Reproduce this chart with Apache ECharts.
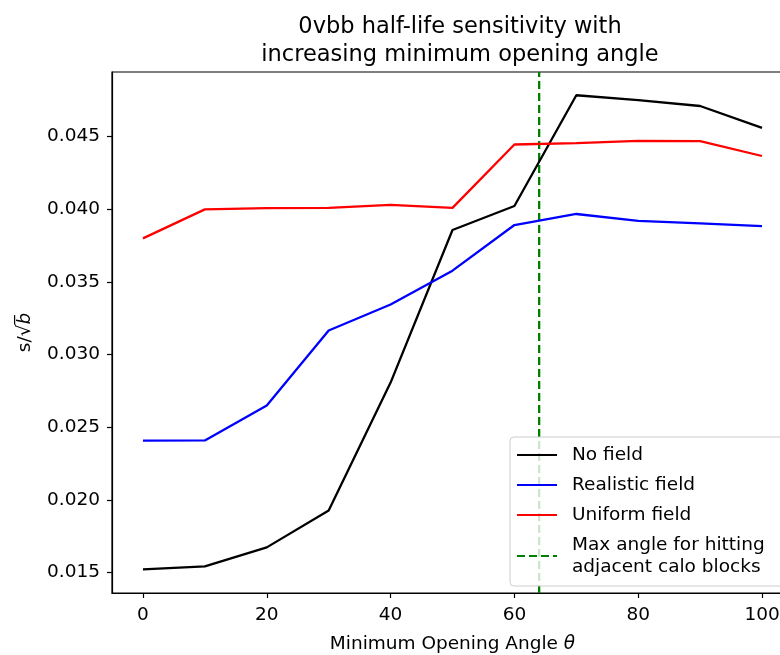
<!DOCTYPE html>
<html><head><meta charset="utf-8">
<script src="https://cdn.jsdelivr.net/npm/echarts@6/dist/echarts.min.js"></script>
<style>html,body{margin:0;padding:0;background:#fff}#c{width:780px;height:655px}</style>
</head><body><div id="c"></div>
<script>
const angles = [0, 10, 20, 30, 40, 50, 60, 70, 80, 90, 100];
const noField = [0.01523, 0.01543, 0.01674, 0.01928, 0.02808, 0.03858, 0.04023, 0.04785, 0.04751, 0.04711, 0.04560];
const realisticField = [0.02409, 0.02410, 0.02650, 0.03166, 0.03345, 0.03578, 0.03892, 0.03968, 0.03920, 0.03904, 0.03885];
const uniformField = [0.03800, 0.04000, 0.04009, 0.04010, 0.04030, 0.04010, 0.04446, 0.04455, 0.04471, 0.04469, 0.04367];
const maxAngle = 64;
const xTicks = [0, 20, 40, 60, 80, 100];
const yTicks = [0.015, 0.020, 0.025, 0.030, 0.035, 0.040, 0.045];
const xMin = -5, xMax = 105, yMin = 0.0136, yMax = 0.04945;
const names = ['No field', 'Realistic field', 'Uniform field', 'Max angle for hitting\nadjacent calo blocks'];

const pair = (ys) => angles.map((a, i) => [a, ys[i]]);
const font = 'DejaVu Sans';
const fs = 18.5;
const chart = echarts.init(document.getElementById('c'), null, {renderer: 'canvas'});
const lineSeries = (name, ys, color) => ({
  name, type: 'line', data: pair(ys), symbol: 'none', showSymbol: false,
  lineStyle: {color, width: 2.3}, itemStyle: {color}, z: 3
});
chart.setOption({
  animation: false,
  textStyle: {fontFamily: font},
  title: {
    text: '0vbb half-life sensitivity with\nincreasing minimum opening angle',
    left: 455, top: 8, textAlign: 'center',
    textStyle: {fontFamily: font, fontSize: 22.5, fontWeight: 'normal', color: '#000', lineHeight: 28}
  },
  grid: {left: 112, top: 72, width: 681, height: 521, outerBoundsMode: 'none', containLabel: false,
    show: true, borderColor: '#000', borderWidth: 1.2, backgroundColor: 'transparent'},
  xAxis: {
    type: 'value', min: xMin, max: xMax,
    name: 'Minimum Opening Angle {i|θ}', nameLocation: 'middle', nameGap: 42,
    nameTextStyle: {fontFamily: font, fontSize: fs, color: '#000',
      rich: {i: {fontFamily: font, fontSize: fs, fontStyle: 'italic', color: '#000'}}},
    axisLine: {show: true, onZero: false, lineStyle: {color: '#000', width: 1.2}},
    axisTick: {show: true, length: 5, customValues: xTicks, lineStyle: {color: '#000', width: 1.2}},
    axisLabel: {customValues: xTicks, fontFamily: font, fontSize: fs, color: '#000', margin: 13},
    splitLine: {show: false}
  },
  yAxis: {
    type: 'value', min: yMin, max: yMax,
    name: 's/√{i|b̅}', nameLocation: 'middle', nameGap: 77, nameRotate: 90,
    nameTextStyle: {fontFamily: font, fontSize: fs, color: '#000',
      rich: {i: {fontFamily: font, fontSize: fs, fontStyle: 'italic', color: '#000'}}},
    axisLine: {show: true, onZero: false, lineStyle: {color: '#000', width: 1.2}},
    axisTick: {show: true, length: 5, customValues: yTicks, lineStyle: {color: '#000', width: 1.2}},
    axisLabel: {customValues: yTicks, fontFamily: font, fontSize: fs, color: '#000', margin: 12,
      formatter: v => v.toFixed(3)},
    splitLine: {show: false}
  },
  legend: {
    orient: 'vertical', left: 510, top: 437,
    data: names,
    itemWidth: 40, itemHeight: 14, itemGap: 8,
    padding: [7, 20, 8, 6],
    itemStyle: {color: 'rgba(0,0,0,0)', borderWidth: 0, opacity: 0},
    backgroundColor: 'rgba(255,255,255,0.8)', borderColor: '#cccccc', borderWidth: 1, borderRadius: 4,
    textStyle: {fontFamily: font, fontSize: fs, color: '#000', lineHeight: 22, padding: [0, 0, 0, 10]}
  },
  series: [
    lineSeries(names[0], noField, '#000000'),
    lineSeries(names[1], realisticField, '#0000ff'),
    lineSeries(names[2], uniformField, '#ff0000'),
    {
      name: names[3], type: 'line', data: [[maxAngle, yMin], [maxAngle, yMax]],
      symbol: 'none', showSymbol: false,
      lineStyle: {color: '#008000', width: 2.3, type: [8, 4]}, itemStyle: {color: '#008000'}, z: 2
    }
  ]
});
</script></body></html>
